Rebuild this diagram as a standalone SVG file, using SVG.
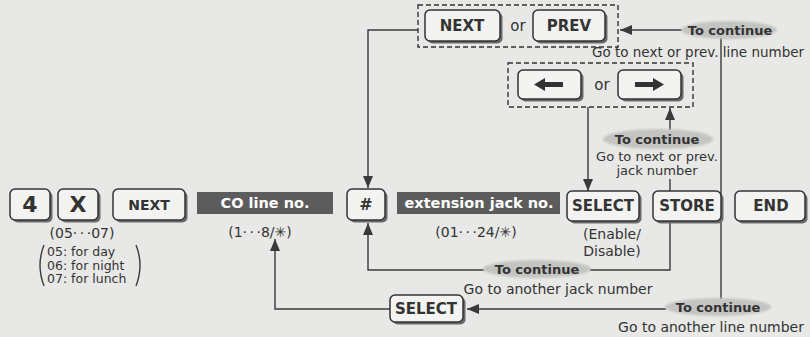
<svg xmlns="http://www.w3.org/2000/svg" width="810" height="337" viewBox="0 0 810 337">
<defs>
<style>
.bg{fill:#e8e8e6}
.ks{fill:#6a6a6a}
.k{fill:#f3f3f1;stroke:#333;stroke-width:1.5}
.kt{font-family:"DejaVu Sans","Liberation Sans",sans-serif;font-weight:bold;fill:#333;text-anchor:middle;font-size:15px}
.dk{fill:#5c5c5c}
.dt{font-family:"DejaVu Sans","Liberation Sans",sans-serif;font-weight:bold;fill:#fff;font-size:14.5px;text-anchor:middle}
.t{font-family:"DejaVu Sans","Liberation Sans",sans-serif;fill:#333;font-size:14px}
.s12{font-size:12.5px}
.s13{font-size:13px}
.s135{font-size:13.5px}
.mid{text-anchor:middle}
.dots{letter-spacing:2.5px}
.tc{font-family:"DejaVu Sans","Liberation Sans",sans-serif;font-weight:bold;fill:#333;font-size:13px;text-anchor:middle}
.el{fill:#c4c4c2;filter:url(#soft)}
.ln{fill:none;stroke:#3a3a3a;stroke-width:1.4}
.ar{marker-end:url(#ah)}
.dash{fill:none;stroke:#333;stroke-width:1.4;stroke-dasharray:5 3}
</style>
<filter id="soft" x="-10%" y="-30%" width="120%" height="160%"><feGaussianBlur stdDeviation="1.2"/></filter>
<marker id="ah" markerUnits="userSpaceOnUse" markerWidth="13" markerHeight="10" refX="12" refY="5" orient="auto"><path d="M0,0 L12,5 L0,10 Z" fill="#3a3a3a"/></marker>
</defs>
<rect class="bg" x="0" y="0" width="810" height="337"/>

<g id="connectors">
<polyline class="ln ar" points="418,30 368,30 368,188"/>
<line class="ln ar" x1="682" y1="30" x2="620" y2="30"/>
<line class="ln" x1="721" y1="38" x2="721" y2="299"/>
<line class="ln ar" x1="588" y1="107" x2="588" y2="191"/>
<line class="ln ar" x1="670" y1="130" x2="670" y2="108"/>
<line class="ln" x1="670" y1="179" x2="670" y2="191"/>
<polyline class="ln" points="670,223 670,270 590,270"/>
<polyline class="ln ar" points="484,270 368,270 368,223"/>
<line class="ln ar" x1="666" y1="309" x2="467" y2="309"/>
<polyline class="ln ar" points="390,309 275,309 275,239"/>
</g>

<g id="key-4"><rect class="ks" x="12.5" y="191.5" width="40" height="31" rx="5"/><rect class="k" x="10" y="189" width="40" height="31" rx="5"/><text class="kt" x="30" y="212" style="font-size:22px">4</text></g>
<g id="key-x"><rect class="ks" x="60.5" y="191.5" width="40" height="31" rx="5"/><rect class="k" x="58" y="189" width="40" height="31" rx="5"/><text class="kt" x="78" y="212" style="font-size:22px">X</text></g>
<g id="key-next"><rect class="ks" x="115.5" y="191.5" width="72" height="31" rx="5"/><rect class="k" x="113" y="189" width="72" height="31" rx="5"/><text class="kt" x="149" y="210" style="font-size:14px">NEXT</text></g>
<g id="note-0507">
<text class="t mid" x="82" y="238">(05<tspan class="dots">··</tspan>·07)</text>
<text class="t s12" x="47" y="256">05: for day</text>
<text class="t s12" x="47" y="269.5">06: for night</text>
<text class="t s12" x="47" y="283">07: for lunch</text>
<path class="ln" d="M44,245 Q36,265 44,286" stroke-width="1"/>
<path class="ln" d="M136,245 Q144,265 136,286" stroke-width="1"/>
</g>

<g id="co-line"><rect class="dk" x="197" y="192" width="136" height="22"/><text class="dt" x="265" y="208">CO line no.</text>
<text class="t mid" x="260" y="237">(1<tspan class="dots">··</tspan>·8/✳)</text></g>

<g id="key-hash"><rect class="ks" x="349.5" y="191.5" width="38" height="31" rx="5"/><rect class="k" x="347" y="189" width="38" height="31" rx="5"/><text class="kt" x="366" y="210" style="font-size:16px">#</text></g>

<g id="ext-jack"><rect class="dk" x="397" y="192" width="163" height="22"/><text class="dt" x="479" y="208">extension jack no.</text>
<text class="t mid" x="476" y="237">(01<tspan class="dots">··</tspan>·24/✳)</text></g>

<g id="key-select"><rect class="ks" x="569.5" y="193.5" width="72" height="30" rx="5"/><rect class="k" x="567" y="191" width="72" height="30" rx="5"/><text class="kt" x="603" y="211">SELECT</text>
<text class="t mid" x="612" y="239">(Enable/</text>
<text class="t mid" x="612" y="256">Disable)</text></g>
<g id="key-store"><rect class="ks" x="655.5" y="193.5" width="68" height="30" rx="5"/><rect class="k" x="653" y="191" width="68" height="30" rx="5"/><text class="kt" x="687" y="211">STORE</text></g>
<g id="key-end"><rect class="ks" x="737.5" y="193.5" width="70" height="30" rx="5"/><rect class="k" x="735" y="191" width="70" height="30" rx="5"/><text class="kt" x="771" y="211">END</text></g>

<g id="next-prev">
<rect class="dash" x="418" y="5" width="200" height="42"/>
<rect class="ks" x="427.5" y="12.5" width="75" height="31" rx="5"/><rect class="k" x="425" y="10" width="75" height="31" rx="5"/><text class="kt" x="462" y="31">NEXT</text>
<text class="t mid" x="518" y="31" style="font-size:15px">or</text>
<rect class="ks" x="535.5" y="12.5" width="72" height="31" rx="5"/><rect class="k" x="533" y="10" width="72" height="31" rx="5"/><text class="kt" x="569" y="31">PREV</text>
</g>

<g id="arrows-keys">
<rect class="dash" x="508" y="63" width="185" height="44"/>
<rect class="ks" x="520.5" y="72.5" width="63" height="29" rx="5"/><rect class="k" x="518" y="70" width="63" height="29" rx="5"/>
<path d="M534,84.5 L545,78 L545,82 L563,82 L563,87 L545,87 L545,91 Z" fill="#333"/>
<text class="t mid" x="602" y="90" style="font-size:15px">or</text>
<rect class="ks" x="620.5" y="72.5" width="63" height="29" rx="5"/><rect class="k" x="618" y="70" width="63" height="29" rx="5"/>
<path d="M664,84.5 L653,78 L653,82 L635,82 L635,87 L653,87 L653,91 Z" fill="#333"/>
</g>

<g id="cont-line"><ellipse class="el" cx="729" cy="30" rx="48" ry="9"/><text class="tc" x="730" y="35">To continue</text>
<text class="t mid s135" x="698" y="57">Go to next or prev. line number</text></g>

<g id="cont-jack-np"><ellipse class="el" cx="658" cy="139" rx="55" ry="10"/><text class="tc" x="657" y="144">To continue</text>
<text class="t mid s13" x="657" y="161">Go to next or prev.</text>
<text class="t mid s13" x="657" y="175">jack number</text></g>

<g id="cont-jack"><ellipse class="el" cx="537" cy="269" rx="54" ry="9"/><text class="tc" x="537" y="274">To continue</text>
<text class="t mid" x="558" y="294">Go to another jack number</text></g>

<g id="cont-another-line"><ellipse class="el" cx="718" cy="307" rx="53" ry="9"/><text class="tc" x="718" y="312">To continue</text>
<text class="t mid" x="711" y="332">Go to another line number</text></g>

<g id="key-select2"><rect class="ks" x="392.5" y="297.5" width="73" height="27" rx="5"/><rect class="k" x="390" y="295" width="73" height="27" rx="5"/><text class="kt" x="426" y="314">SELECT</text></g>
</svg>
